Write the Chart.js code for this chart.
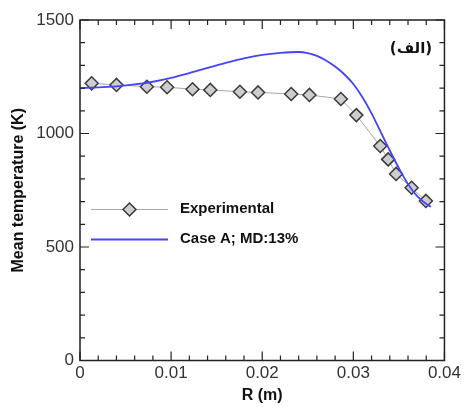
<!DOCTYPE html>
<html>
<head>
<meta charset="utf-8">
<title>Mean temperature profile</title>
<script src="https://cdn.jsdelivr.net/npm/chart.js@4.4.1/dist/chart.umd.min.js"></script>
<style>
	html, body { margin: 0; padding: 0; background: #fff; }
	canvas { display: block; }
</style>
</head>
<body>
<canvas id="tempChart" width="464" height="407"></canvas>
<script>
// Measured mean temperature across the radius.
var expR = [ 0.00128, 0.0040, 0.00734, 0.00956, 0.01235, 0.0143, 0.01755, 0.01954, 0.02318, 0.02518, 0.02863, 0.03033, 0.03295, 0.03382, 0.03469, 0.0364, 0.03796 ];
var expT = [ 1221, 1214, 1206, 1204, 1195, 1192, 1184, 1181, 1174, 1170, 1152, 1081, 945, 886, 822, 761, 703 ];

// Simulated profile, case A.
var caseR = [ 0, 0.002, 0.004, 0.006, 0.008, 0.010, 0.012, 0.014, 0.016, 0.018, 0.020, 0.022, 0.024, 0.025, 0.026, 0.027, 0.028, 0.029, 0.030, 0.031, 0.032, 0.033, 0.034, 0.035, 0.036, 0.037, 0.038, 0.0385 ];
var caseT = [ 1200, 1203, 1208, 1216, 1228, 1245, 1266, 1289, 1311, 1331, 1346, 1355, 1359, 1354, 1342, 1322, 1295, 1261, 1218, 1160, 1089, 1007, 925, 847, 777, 724, 690, 677 ];

var xTickLabels = [ '0', '0.01', '0.02', '0.03', '0.04' ];
var yTickLabels = [ '0', '500', '1000', '1500' ];
var legendLabels = [ 'Experimental', 'Case A; MD:13%' ];
var panelLabel = '(الف)';

( function () {
	'use strict';

	var FONT = "'Liberation Sans', Arial, Helvetica, sans-serif";
	var BLUE = '#4444ff';
	var GREY_LINE = '#a8a8a8';
	var MARK_FILL = '#cdcdcd';
	var MARK_EDGE = '#3a3a3a';

	function toPoints( xs, ys ) {
		return xs.map( function ( x, i ) {
			return { x: x, y: ys[ i ] };
		} );
	}

	function diamond( ctx, x, y, r ) {
		ctx.beginPath();
		ctx.moveTo( x, y - r );
		ctx.lineTo( x + r, y );
		ctx.lineTo( x, y + r );
		ctx.lineTo( x - r, y );
		ctx.closePath();
		ctx.fillStyle = MARK_FILL;
		ctx.fill();
		ctx.lineWidth = 1.5;
		ctx.strokeStyle = MARK_EDGE;
		ctx.stroke();
	}

	// Closed frame with inward ticks on all four sides.
	var framePlugin = {
		id: 'frameTicks',
		afterDatasetsDraw: function ( chart ) {
			var ctx = chart.ctx;
			var a = chart.chartArea;
			var xs = chart.scales.x;
			var ys = chart.scales.y;
			var i, p, len;

			ctx.save();
			ctx.strokeStyle = '#222';
			ctx.lineWidth = 1.5;
			ctx.strokeRect( a.left, a.top, a.right - a.left, a.bottom - a.top );

			ctx.lineWidth = 1.2;
			ctx.beginPath();
			for ( i = 0; i <= 20; i++ ) {
				p = xs.getPixelForValue( i * 0.002 );
				len = i % 5 === 0 ? 9 : 5;
				ctx.moveTo( p, a.bottom );
				ctx.lineTo( p, a.bottom - len );
				ctx.moveTo( p, a.top );
				ctx.lineTo( p, a.top + len );
			}
			for ( i = 0; i <= 15; i++ ) {
				p = ys.getPixelForValue( i * 100 );
				len = i % 5 === 0 ? 9 : 5;
				ctx.moveTo( a.left, p );
				ctx.lineTo( a.left + len, p );
				ctx.moveTo( a.right, p );
				ctx.lineTo( a.right - len, p );
			}
			ctx.stroke();
			ctx.restore();
		},
		afterDraw: function ( chart ) {
			var ctx = chart.ctx;
			ctx.save();

			// Legend block inside the plot.
			ctx.lineWidth = 1;
			ctx.strokeStyle = GREY_LINE;
			ctx.beginPath();
			ctx.moveTo( 91, 209.5 );
			ctx.lineTo( 168, 209.5 );
			ctx.stroke();
			diamond( ctx, 129.5, 209.5, 6.5 );

			ctx.lineWidth = 1.8;
			ctx.strokeStyle = BLUE;
			ctx.beginPath();
			ctx.moveTo( 91, 239.5 );
			ctx.lineTo( 168, 239.5 );
			ctx.stroke();

			ctx.fillStyle = '#111';
			ctx.font = 'bold 15px ' + FONT;
			ctx.textBaseline = 'middle';
			ctx.textAlign = 'left';
			ctx.fillText( legendLabels[ 0 ], 180, 209 );
			ctx.fillText( legendLabels[ 1 ], 180, 239 );

			ctx.font = "bold 15px 'DejaVu Sans', sans-serif";
			ctx.textAlign = 'center';
			ctx.fillText( panelLabel, 411, 49 );
			ctx.restore();
		}
	};

	Chart.defaults.font.family = FONT;
	Chart.defaults.color = '#222';

	new Chart( document.getElementById( 'tempChart' ), {
		type: 'scatter',
		data: {
			datasets: [
				{
					label:                  legendLabels[ 1 ],
					data:                   toPoints( caseR, caseT ),
					showLine:               true,
					borderColor:            BLUE,
					borderWidth:            1.8,
					pointRadius:            0,
					cubicInterpolationMode: 'monotone',
					order:                  0,
				},
				{
					label:                legendLabels[ 0 ],
					data:                 toPoints( expR, expT ),
					showLine:             true,
					borderColor:          GREY_LINE,
					borderWidth:          1,
					pointStyle:           'rectRot',
					pointRadius:          6.5,
					pointBackgroundColor: MARK_FILL,
					pointBorderColor:     MARK_EDGE,
					pointBorderWidth:     1.5,
					order:                1,
				},
			],
		},
		options: {
			responsive: false,
			animation:  false,
			events:     [],
			layout: {
				padding: { top: 20, right: 17, bottom: 0, left: 0 },
			},
			plugins: {
				legend:  { display: false },
				tooltip: { enabled: false },
			},
			scales: {
				x: {
					type: 'linear',
					min:  0,
					max:  0.04,
					grid:   { display: false, drawTicks: false },
					border: { display: false },
					ticks: {
						stepSize:    0.01,
						autoSkip:    false,
						maxRotation: 0,
						padding:     3,
						color:       '#333',
						font:        { size: 17 },
						callback: function ( v, i ) {
							return xTickLabels[ i ];
						},
					},
					title: {
						display: true,
						text:    'R (m)',
						color:   '#111',
						font:    { size: 16, weight: 'bold' },
						padding: { top: 0, bottom: 2 },
					},
					afterFit: function ( s ) {
						s.height = 46.5;
					},
				},
				y: {
					min: 0,
					max: 1500,
					grid:   { display: false, drawTicks: false },
					border: { display: false },
					ticks: {
						stepSize: 500,
						padding:  6,
						color:    '#333',
						font:     { size: 17 },
						callback: function ( v, i ) {
							return yTickLabels[ i ];
						},
					},
					title: {
						display: true,
						text:    'Mean temperature (K)',
						color:   '#111',
						font:    { size: 16, weight: 'bold' },
						padding: { top: 9, bottom: 0 },
					},
					afterFit: function ( s ) {
						s.width = 80;
					},
				},
			},
		},
		plugins: [ framePlugin ],
	} );
} )();
</script>
</body>
</html>
